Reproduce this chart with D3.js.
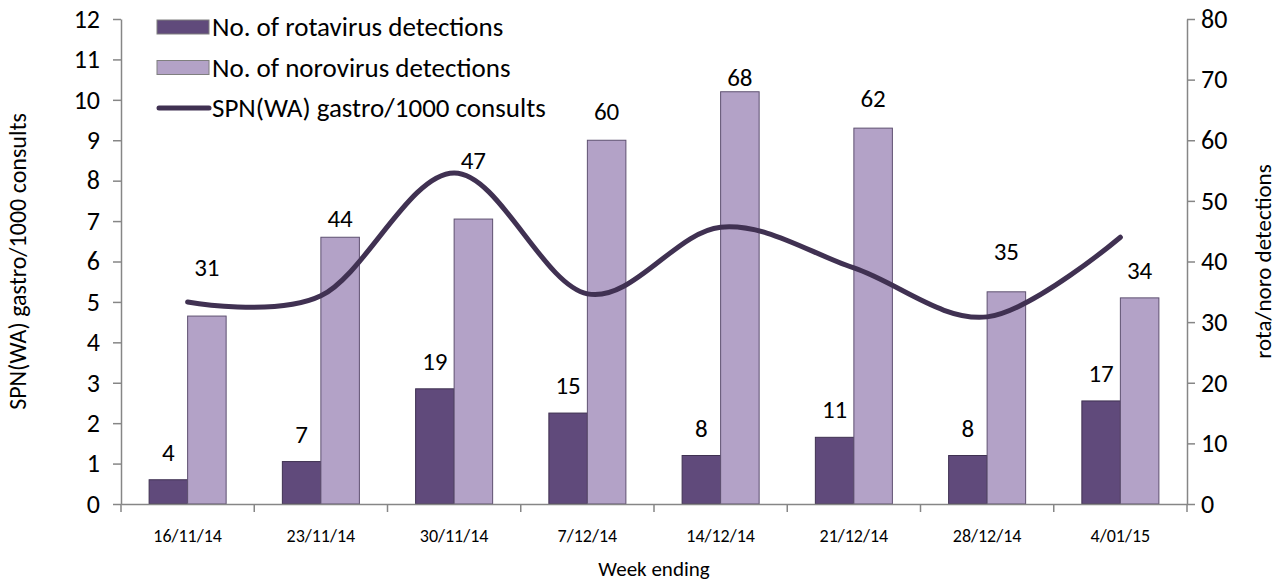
<!DOCTYPE html>
<html>
<head>
<meta charset="utf-8">
<script src="https://cdn.jsdelivr.net/npm/d3@7"></script>
<style>
  body { margin: 0; background: #fff; }
  svg { display: block; font-family: Calibri, Carlito, Lato, "Noto Sans", sans-serif; }
</style>
</head>
<body>
<svg width="1279" height="583"></svg>
<script>
var weeks = ["16/11/14", "23/11/14", "30/11/14", "7/12/14", "14/12/14", "21/12/14", "28/12/14", "4/01/15"];
var rotavirus = [4, 7, 19, 15, 8, 11, 8, 17];
var norovirus = [31, 44, 47, 60, 68, 62, 35, 34];
var gastroRate = [5.0, 5.15, 8.19, 5.2, 6.85, 5.84, 4.63, 6.6];
var leftTicks = d3.range(0, 13);
var rightTicks = d3.range(0, 81, 10);

// labels were nudged by hand in the original to dodge the line
var rotaLabelGap = [19, 19, 19, 19, 19, 19, 19, 19];
var noroLabelGap = [40, 10, 50, 20, 6, 21, 32, 19];

var svg = d3.select("svg"),
    width = +svg.attr("width"),
    height = +svg.attr("height");

var margin = {top: 19, right: 92, bottom: 79, left: 121};
var x0 = d3.scaleBand()
    .domain(weeks)
    .range([margin.left, width - margin.right])
    .paddingInner(0.422)
    .paddingOuter(0.211);

var x1 = d3.scaleBand()
    .domain(["rota", "noro"])
    .range([0, x0.bandwidth()]);

var yLeft = d3.scaleLinear().domain([0, 12]).range([height - margin.bottom, margin.top]);
var yRight = d3.scaleLinear().domain([0, 80]).range([height - margin.bottom, margin.top]);

var axisColor = "#868686";
var rotaColor = "#604a7b", noroColor = "#b3a2c7", lineColor = "#403152";

var rows = weeks.map(function(w, i) {
  return {week: w, rota: rotavirus[i], noro: norovirus[i], rate: gastroRate[i], i: i};
});

// bars
var groups = svg.append("g").selectAll("g")
    .data(rows)
    .enter().append("g")
    .attr("transform", function(d) { return "translate(" + x0(d.week) + ",0)"; });

groups.append("rect")
    .attr("x", x1("rota"))
    .attr("width", x1.bandwidth())
    .attr("y", function(d) { return yRight(d.rota); })
    .attr("height", function(d) { return yRight(0) - yRight(d.rota); })
    .attr("fill", rotaColor)
    .attr("stroke", "#3f3151")
    .attr("stroke-width", 1);

groups.append("rect")
    .attr("x", x1("noro"))
    .attr("width", x1.bandwidth())
    .attr("y", function(d) { return yRight(d.noro); })
    .attr("height", function(d) { return yRight(0) - yRight(d.noro); })
    .attr("fill", noroColor)
    .attr("stroke", "#5e5070")
    .attr("stroke-width", 1);

// data labels
groups.append("text")
    .attr("x", x1("rota") + x1.bandwidth() / 2)
    .attr("y", function(d) { return yRight(d.rota) - rotaLabelGap[d.i]; })
    .attr("text-anchor", "middle")
    .style("font-size", "25px")
    .attr("fill", "#000")
    .text(function(d) { return d.rota; });

groups.append("text")
    .attr("x", x1("noro") + x1.bandwidth() / 2)
    .attr("y", function(d) { return yRight(d.noro) - noroLabelGap[d.i]; })
    .attr("text-anchor", "middle")
    .style("font-size", "25px")
    .attr("fill", "#000")
    .text(function(d) { return d.noro; });

// smoothed line
var line = d3.line()
    .x(function(d) { return x0(d.week) + x0.bandwidth() / 2; })
    .y(function(d) { return yLeft(d.rate); })
    .curve(d3.curveCardinal.tension(0));

svg.append("path")
    .datum(rows)
    .attr("d", line)
    .attr("fill", "none")
    .attr("stroke", lineColor)
    .attr("stroke-width", 5)
    .attr("stroke-linecap", "round");

// axes
function styleAxis(g) {
  g.attr("font-family", null);
  g.selectAll(".domain").attr("stroke", axisColor).attr("stroke-width", 1.5);
  g.selectAll(".tick line").attr("stroke", axisColor).attr("stroke-width", 1.5);
  g.selectAll(".tick text").attr("fill", "#000");
}

var xAxis = svg.append("g")
    .attr("transform", "translate(0," + (height - margin.bottom) + ")")
    .call(d3.axisBottom(x0).tickSize(0).tickPadding(25).tickSizeOuter(0))
    .call(styleAxis);
xAxis.selectAll(".tick text").style("font-size", "18px");

// category boundary ticks
var step = x0.step();
svg.append("g").selectAll("line")
    .data(d3.range(0, weeks.length + 1))
    .enter().append("line")
    .attr("x1", function(k) { return margin.left + k * step; })
    .attr("x2", function(k) { return margin.left + k * step; })
    .attr("y1", height - margin.bottom)
    .attr("y2", height - margin.bottom + 8)
    .attr("stroke", axisColor)
    .attr("stroke-width", 1.5);

var leftAxis = svg.append("g")
    .attr("transform", "translate(" + margin.left + ",0)")
    .call(d3.axisLeft(yLeft).tickValues(leftTicks).tickSize(8).tickPadding(13).tickSizeOuter(0))
    .call(styleAxis);
leftAxis.selectAll(".tick text").style("font-size", "26px");

var rightAxis = svg.append("g")
    .attr("transform", "translate(" + (width - margin.right) + ",0)")
    .call(d3.axisRight(yRight).tickValues(rightTicks).tickSize(8).tickPadding(6).tickSizeOuter(0))
    .call(styleAxis);
rightAxis.selectAll(".tick text").style("font-size", "26px");

// axis titles
svg.append("text")
    .attr("transform", "translate(26," + ((margin.top + height - margin.bottom) / 2) + ") rotate(-90)")
    .attr("text-anchor", "middle")
    .style("font-size", "24px")
    .text("SPN(WA) gastro/1000 consults");

svg.append("text")
    .attr("transform", "translate(1271," + ((margin.top + height - margin.bottom) / 2) + ") rotate(-90)")
    .attr("text-anchor", "middle")
    .style("font-size", "23px")
    .text("rota/noro detections");

svg.append("text")
    .attr("x", (margin.left + width - margin.right) / 2)
    .attr("y", 576)
    .attr("text-anchor", "middle")
    .style("font-size", "21px")
    .text("Week ending");

// legend
var legendItems = [
  {label: "No. of rotavirus detections", type: "bar", color: rotaColor},
  {label: "No. of norovirus detections", type: "bar", color: noroColor},
  {label: "SPN(WA) gastro/1000 consults", type: "line", color: lineColor}
];

var legend = svg.append("g").selectAll("g")
    .data(legendItems)
    .enter().append("g")
    .attr("transform", function(d, i) { return "translate(157," + (27 + i * 40.5) + ")"; });

legend.filter(function(d) { return d.type === "bar"; })
    .append("rect")
    .attr("x", 0).attr("y", -7)
    .attr("width", 52).attr("height", 14)
    .attr("fill", function(d) { return d.color; })
    .attr("stroke", "#7f7f7f")
    .attr("stroke-width", 1);

legend.filter(function(d) { return d.type === "line"; })
    .append("line")
    .attr("x1", 2).attr("x2", 52)
    .attr("stroke", function(d) { return d.color; })
    .attr("stroke-width", 5)
    .attr("stroke-linecap", "round");

legend.append("text")
    .attr("x", 55)
    .attr("dy", "0.35em")
    .style("font-size", "27px")
    .text(function(d) { return d.label; });
</script>
</body>
</html>
